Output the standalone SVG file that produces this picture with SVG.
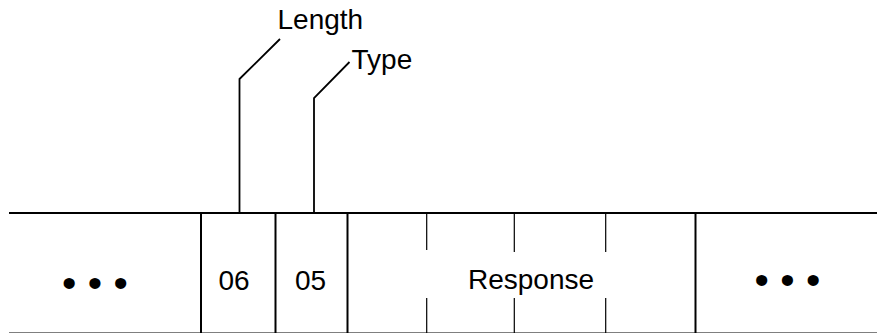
<svg xmlns="http://www.w3.org/2000/svg" width="877" height="333" viewBox="0 0 877 333">
<style>
  .t { font-family: "Liberation Sans", Arial, sans-serif; font-size: 28px; fill: #000; }
  .m { text-anchor: middle; }
  .dots { font-family: "Liberation Sans", Arial, sans-serif; font-size: 41px; fill: #000; text-anchor: middle; }
  .frame { stroke: #000; stroke-width: 2; fill: none; }
  .div { stroke: #000; stroke-width: 2; fill: none; }
  .tick { stroke: #000; stroke-width: 1.2; fill: none; }
  .lead { stroke: #000; stroke-width: 1.8; fill: none; }
</style>
<rect width="877" height="333" fill="#fff"/>
<g id="frame">
  <line class="frame" x1="9" y1="213" x2="877" y2="213"/>
  <line class="frame" x1="9" y1="333.5" x2="877" y2="333.5"/>
</g>
<g id="field-left">
  <text class="dots" x="95" y="297">• • •</text>
</g>
<g id="field-length">
  <line class="div" x1="201" y1="213" x2="201" y2="333"/>
  <text class="t m" x="234" y="290">06</text>
</g>
<g id="field-type">
  <line class="div" x1="275.5" y1="213" x2="275.5" y2="333"/>
  <text class="t m" x="310.5" y="290">05</text>
</g>
<g id="field-response">
  <line class="div" x1="347.5" y1="213" x2="347.5" y2="333"/>
  <line class="tick" x1="426.7" y1="213" x2="426.7" y2="250"/>
  <line class="tick" x1="426.7" y1="298" x2="426.7" y2="333"/>
  <line class="tick" x1="514.3" y1="213" x2="514.3" y2="252"/>
  <line class="tick" x1="514.3" y1="298" x2="514.3" y2="333"/>
  <line class="tick" x1="605.7" y1="213" x2="605.7" y2="252"/>
  <line class="tick" x1="605.7" y1="298" x2="605.7" y2="333"/>
  <text class="t m" x="531" y="289">Response</text>
</g>
<g id="field-right">
  <line class="div" x1="695.5" y1="213" x2="695.5" y2="333"/>
  <text class="dots" x="787.5" y="294">• • •</text>
</g>
<g id="label-length">
  <text class="t" x="277.5" y="29">Length</text>
</g>
<g id="label-type">
  <text class="t" x="351.5" y="69">Type</text>
</g>
<g id="connectors">
  <polyline class="lead" points="239.5,213 239.5,79 280,39"/>
  <polyline class="lead" points="314,213 314,98 349.5,62"/>
</g>
</svg>
